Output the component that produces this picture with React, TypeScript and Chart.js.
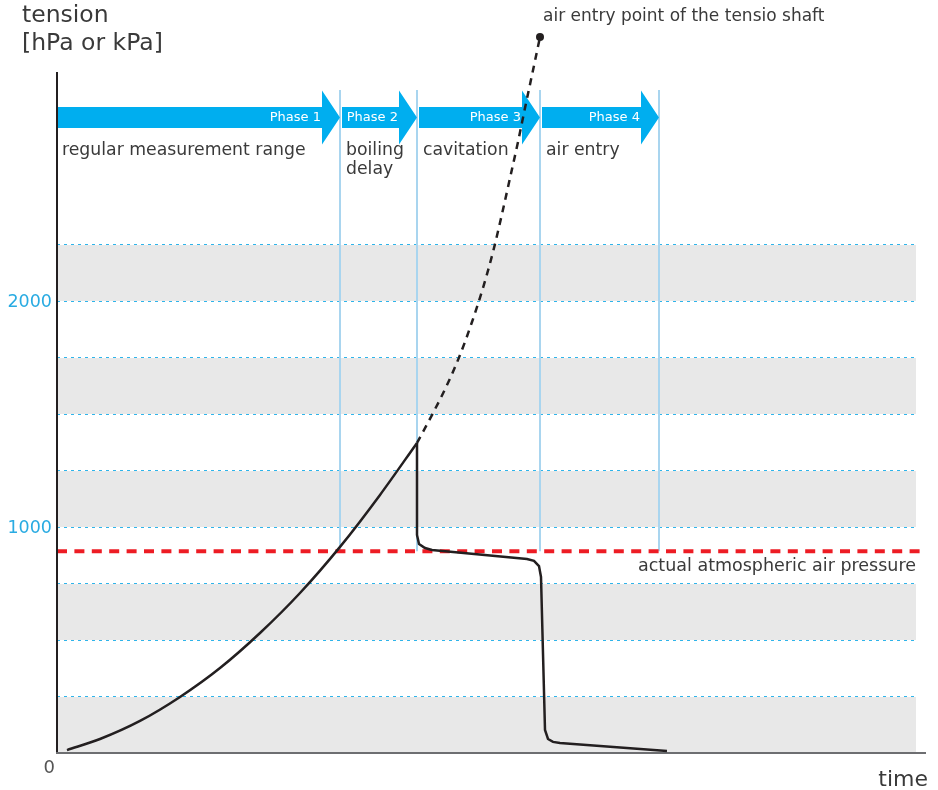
import React, { useEffect, useRef } from "react";
import { Chart, registerables } from "chart.js";

Chart.register(...registerables);

// ---- data ----
const curveTime = [10, 43, 83, 123, 163, 203, 243, 283, 323, 360];
const curveTension = [13, 62, 142, 248, 376, 531, 708, 912, 1142, 1372];
const extrapTime = [360, 376, 390, 403, 415, 426, 436, 445, 453, 461, 468, 475, 483];
const extrapTension = [1372, 1504, 1628, 1761, 1907, 2058, 2217, 2385, 2544, 2704, 2854, 3000, 3168];
const cavTime = [360, 360, 362, 368, 375, 470, 477, 482, 484, 488, 491, 496, 503, 610];
const cavTension = [1372, 965, 925, 907, 898, 858, 850, 827, 779, 102, 62, 49, 44, 9];

const phaseStart = [0, 283, 360, 483];
const phaseEnd = [283, 360, 483, 602];
const phaseLabels = ["Phase 1", "Phase 2", "Phase 3", "Phase 4"];
const phaseNames = [["regular measurement range"], ["boiling", "delay"], ["cavitation"], ["air entry"]];

const grayBandsFrom = [0, 500, 1000, 1500, 2000];
const grayBandsTo = [250, 750, 1250, 1750, 2250];
const gridValues = [250, 500, 750, 1000, 1250, 1500, 1750, 2000, 2250];
const bandEndTime = 859;
const axisTop = 3013;
const atmPressure = 893;
const arrowLevel = 2812;
const phaseLineTop = 2934;
const yTickValues = [1000, 2000];
const yTickLabels = ["1000", "2000"];

const FONT = '"DejaVu Sans", sans-serif';
const TEXT = "#3a3a3a";

const decor = {
  id: "decor",
  beforeDatasetsDraw(chart: any) {
    const ctx = chart.ctx;
    const xs = chart.scales.x;
    const ys = chart.scales.y;
    const X = (v: number) => xs.getPixelForValue(v);
    const Y = (v: number) => ys.getPixelForValue(v);
    const RY = (v: number) => Math.floor(Y(v) + 0.001);
    const x0p = Math.round(X(0));
    const x1p = Math.round(X(bandEndTime));
    ctx.save();
    // gray bands
    ctx.fillStyle = "#e8e8e8";
    for (let i = 0; i < grayBandsFrom.length; i++) {
      const y1 = RY(grayBandsTo[i]) + 1;
      const y0 = RY(grayBandsFrom[i]);
      ctx.fillRect(x0p, y1, x1p - x0p, y0 - y1);
    }
    // dotted grid lines
    ctx.strokeStyle = "#2fb4ea";
    ctx.lineWidth = 1;
    ctx.setLineDash([3, 4]);
    for (const g of gridValues) {
      const y = RY(g) + 0.5;
      ctx.beginPath();
      ctx.moveTo(x0p, y);
      ctx.lineTo(x1p, y);
      ctx.stroke();
    }
    ctx.setLineDash([]);
    // phase vertical lines
    ctx.strokeStyle = "#a9d5ef";
    ctx.lineWidth = 2;
    for (const e of phaseEnd) {
      ctx.beginPath();
      ctx.moveTo(X(e), Y(phaseLineTop));
      ctx.lineTo(X(e), Y(atmPressure));
      ctx.stroke();
    }
    // red atmospheric line
    ctx.strokeStyle = "#ed1c24";
    ctx.lineWidth = 4;
    ctx.setLineDash([10, 7.4]);
    ctx.beginPath();
    ctx.moveTo(X(0), Y(atmPressure));
    ctx.lineTo(chart.chartArea.right, Y(atmPressure));
    ctx.stroke();
    ctx.setLineDash([]);
    // arrows
    const cy = Y(arrowLevel);
    for (let i = 0; i < phaseStart.length; i++) {
      const x0 = X(phaseStart[i]) + (i === 0 ? 1 : 2);
      const tip = X(phaseEnd[i]);
      const hs = tip - 18;
      ctx.fillStyle = "#00aeef";
      ctx.beginPath();
      ctx.moveTo(x0, cy - 10.5);
      ctx.lineTo(hs, cy - 10.5);
      ctx.lineTo(hs, cy - 27);
      ctx.lineTo(tip, cy);
      ctx.lineTo(hs, cy + 27);
      ctx.lineTo(hs, cy + 10.5);
      ctx.lineTo(x0, cy + 10.5);
      ctx.closePath();
      ctx.fill();
      ctx.fillStyle = "#ffffff";
      ctx.font = `13px ${FONT}`;
      ctx.textAlign = "right";
      ctx.textBaseline = "middle";
      ctx.fillText(phaseLabels[i], hs - 1, cy);
      // phase description
      ctx.fillStyle = TEXT;
      ctx.font = `17.3px ${FONT}`;
      ctx.textAlign = "left";
      phaseNames[i].forEach((t, k) => {
        ctx.fillText(t, x0 + 4, cy + 33 + k * 19);
      });
    }
    // axes
    ctx.strokeStyle = "#231f20";
    ctx.lineWidth = 2;
    ctx.beginPath();
    ctx.moveTo(X(0), Y(axisTop));
    ctx.lineTo(X(0), Y(0));
    ctx.stroke();
    ctx.strokeStyle = "#6d6e71";
    ctx.beginPath();
    ctx.moveTo(X(0) - 1, Y(0));
    ctx.lineTo(chart.chartArea.right, Y(0));
    ctx.stroke();
    // tick labels
    ctx.fillStyle = "#29abe2";
    ctx.font = `17.5px ${FONT}`;
    ctx.textAlign = "right";
    ctx.textBaseline = "middle";
    yTickValues.forEach((v, i) => ctx.fillText(yTickLabels[i], X(0) - 5, Y(v) + 1));
    ctx.fillStyle = "#555";
    ctx.font = `18px ${FONT}`;
    ctx.fillText("0", X(0) - 2, Y(0) + 15);
    // titles
    ctx.fillStyle = TEXT;
    ctx.font = `23.5px ${FONT}`;
    ctx.textAlign = "left";
    ctx.textBaseline = "top";
    ctx.fillText("tension", 22, 4);
    ctx.fillText("[hPa or kPa]", 22, 32);
    ctx.textAlign = "right";
    ctx.textBaseline = "alphabetic";
    ctx.font = `22px ${FONT}`;
    ctx.fillText("time", chart.chartArea.right + 2, 786);
    ctx.font = `17.5px ${FONT}`;
    ctx.textBaseline = "middle";
    ctx.fillText("actual atmospheric air pressure", X(bandEndTime), Y(atmPressure) + 15);
    ctx.font = `17px ${FONT}`;
    ctx.textAlign = "left";
    ctx.fillText("air entry point of the tensio shaft", X(extrapTime[extrapTime.length - 1]) + 3, 17);
    ctx.restore();
  },
};

export default function App() {
  const ref = useRef<HTMLCanvasElement | null>(null);
  useEffect(() => {
    if (!ref.current) return;
    const toPts = (xs: number[], ys: number[]) => xs.map((x, i) => ({ x, y: ys[i] }));
    const chart = new Chart(ref.current, {
      type: "scatter",
      data: {
        datasets: [
          {
            data: toPts(curveTime, curveTension),
            showLine: true,
            borderColor: "#231f20",
            borderWidth: 2.5,
            pointRadius: 0,
            cubicInterpolationMode: "monotone",
          } as any,
          {
            data: toPts(extrapTime, extrapTension),
            showLine: true,
            borderColor: "#231f20",
            borderWidth: 2.5,
            borderDash: [7, 6],
            pointRadius: extrapTime.map((_, i) => (i === extrapTime.length - 1 ? 4 : 0)),
            pointBackgroundColor: "#231f20",
            pointBorderWidth: 0,
            cubicInterpolationMode: "monotone",
          } as any,
          {
            data: toPts(cavTime, cavTension),
            showLine: true,
            borderColor: "#231f20",
            borderWidth: 2.5,
            pointRadius: 0,
            tension: 0,
          } as any,
        ],
      },
      options: {
        responsive: false,
        animation: false,
        layout: { padding: { left: 57, right: 12, top: 18.5, bottom: 37 } },
        scales: {
          x: { type: "linear", min: 0, max: 869, display: false },
          y: { type: "linear", min: 0, max: 3250, display: false },
        },
        plugins: { legend: { display: false }, tooltip: { enabled: false } },
        events: [],
      },
      plugins: [decor],
    });
    return () => chart.destroy();
  }, []);
  return (
    <div style={{ position: "absolute", left: 0, top: 0, width: 938, height: 790, background: "#fff" }}>
      <canvas ref={ref} width={938} height={790} style={{ display: "block" }} />
    </div>
  );
}
